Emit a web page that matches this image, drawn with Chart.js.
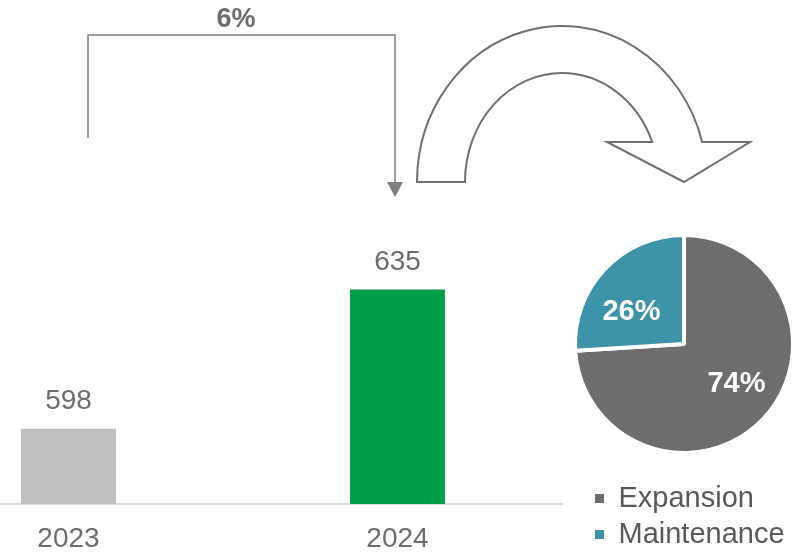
<!DOCTYPE html>
<html><head><meta charset="utf-8">
<script src="https://cdn.jsdelivr.net/npm/chart.js@4"></script>
<style>
html,body{margin:0;padding:0;background:#fff;overflow:hidden;width:807px;height:553px;}
#bar{position:absolute;left:0;top:0;}
#pie{position:absolute;left:560px;top:200px;}
</style></head><body>
<canvas id="bar" width="807" height="553"></canvas>
<canvas id="pie" width="247" height="359"></canvas>
<script>
// ---- data ----
const years = ['2023', '2024'];
const capex = [598, 635];
const splitLabels = ['Expansion', 'Maintenance'];
const splitShares = [74, 26];

const FONT = "'Liberation Sans', Arial, sans-serif";
const GRAY_TEXT = '#6d6d6d';

const annot = {
  id: 'annot',
  afterDatasetsDraw(chart) {
    const ctx = chart.ctx;
    const bars = chart.getDatasetMeta(0).data;
    ctx.save();
    // value labels
    ctx.font = '28px ' + FONT;
    ctx.fillStyle = GRAY_TEXT;
    ctx.textAlign = 'center';
    ctx.textBaseline = 'middle';
    bars.forEach((b, i) => ctx.fillText(String(capex[i]), b.x, b.y - 27.5));
    // elbow arrow
    const xl = bars[0].x + 19.5, xr = bars[1].x - 2.5, yTop = 35, yL = 138, yTip = 197;
    ctx.strokeStyle = '#7f7f7f';
    ctx.lineWidth = 1.5;
    ctx.beginPath();
    ctx.moveTo(xl, yL); ctx.lineTo(xl, yTop); ctx.lineTo(xr, yTop); ctx.lineTo(xr, yTip - 14);
    ctx.stroke();
    ctx.fillStyle = '#7f7f7f';
    ctx.beginPath();
    ctx.moveTo(xr - 8, yTip - 15); ctx.lineTo(xr + 8, yTip - 15); ctx.lineTo(xr, yTip);
    ctx.closePath(); ctx.fill();
    // growth label
    const g = Math.round((capex[1] / capex[0] - 1) * 100);
    ctx.font = 'bold 27px ' + FONT;
    ctx.fillStyle = GRAY_TEXT;
    ctx.fillText(g + '%', 236, 20);
    // curved hollow arrow
    const cx = 562, cy = 182;
    const tIn = -Math.asin(40 / 109), tOut = -Math.asin(40 / 156);
    ctx.beginPath();
    ctx.moveTo(cx - 145, cy);
    ctx.lineTo(cx - 97, cy);
    ctx.ellipse(cx, cy, 97, 109, 0, Math.PI, 2 * Math.PI + tIn, false);
    ctx.lineTo(607, 142);
    ctx.lineTo(684, 182);
    ctx.lineTo(750, 142);
    ctx.lineTo(cx + 145 * Math.cos(tOut), 142);
    ctx.ellipse(cx, cy, 145, 156, 0, 2 * Math.PI + tOut, Math.PI, true);
    ctx.closePath();
    ctx.fillStyle = '#ffffff';
    ctx.fill();
    ctx.strokeStyle = '#707070';
    ctx.lineWidth = 2;
    ctx.lineJoin = 'miter';
    ctx.stroke();
    ctx.restore();
  }
};

new Chart(document.getElementById('bar'), {
  type: 'bar',
  data: {
    datasets: [{
      data: capex.map((v, i) => ({ x: i, y: v })),
      backgroundColor: ['#bfbfbf', '#009e49'],
      barPercentage: 1,
      categoryPercentage: 95 / 329
    }]
  },
  options: {
    responsive: false,
    animation: false,
    layout: { padding: { left: 0, right: 245, top: 0, bottom: 0 } },
    plugins: { legend: { display: false }, tooltip: { enabled: false } },
    scales: {
      x: {
        type: 'linear', offset: false, min: -0.2082, max: 1.5,
        grid: { display: false, offset: false },
        border: { display: true, color: '#d9d9d9', width: 2 },
        afterBuildTicks: s => { s.ticks = years.map((_, i) => ({ value: i })); },
        afterFit: s => { s.height = 49; },
        ticks: {
          callback: v => years[v],
          font: { family: FONT, size: 28 }, color: GRAY_TEXT,
          padding: 10, autoSkip: false, maxRotation: 0
        }
      },
      y: { display: false, min: 578, max: 712 }
    }
  },
  plugins: [annot]
});

const pieLabelPlugin = {
  id: 'pieLabels',
  afterDatasetsDraw(chart) {
    const ctx = chart.ctx;
    const meta = chart.getDatasetMeta(0);
    ctx.save();
    ctx.font = 'bold 29px ' + FONT;
    ctx.fillStyle = '#ffffff';
    ctx.textAlign = 'center';
    ctx.textBaseline = 'middle';
    meta.data.forEach((arc, i) => {
      const mid = (arc.startAngle + arc.endAngle) / 2 - 0.15;
      const r = arc.outerRadius * 0.585;
      ctx.fillText(splitShares[i] + '%', arc.x + Math.cos(mid) * r, arc.y + Math.sin(mid) * r + 4);
    });
    ctx.restore();
  }
};

new Chart(document.getElementById('pie'), {
  type: 'pie',
  data: {
    labels: splitLabels,
    datasets: [{
      data: splitShares,
      backgroundColor: ['#6d6d6d', '#3f93a8'],
      borderColor: '#ffffff',
      borderWidth: 4,
      radius: 109
    }]
  },
  options: {
    responsive: false,
    animation: false,
    layout: { padding: { left: 28, right: 0, top: 11, bottom: 0 } },
    plugins: {
      tooltip: { enabled: false },
      // empty spacer box on the right: keeps the pie centred while the legend uses the full width
      title: { display: true, text: '', position: 'right', fullSize: false,
               font: { size: 20, lineHeight: 1.2 }, padding: 1.5 },
      legend: {
        position: 'bottom', align: 'start', fullSize: true,
        labels: {
          boxWidth: 9, boxHeight: 9, padding: 7,
          color: '#595959', font: { family: FONT, size: 29 },
          generateLabels: chart => chart.data.labels.map((t, i) => ({
            text: t,
            fillStyle: chart.data.datasets[0].backgroundColor[i],
            strokeStyle: 'rgba(0,0,0,0)', lineWidth: 0,
            hidden: false, index: i, fontColor: '#595959'
          }))
        }
      }
    }
  },
  plugins: [pieLabelPlugin]
});
</script>
</body></html>
